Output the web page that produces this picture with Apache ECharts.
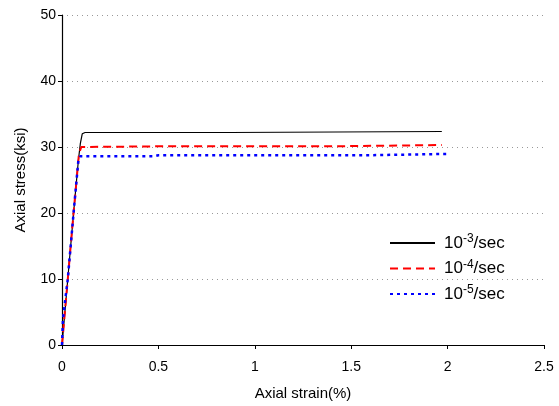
<!DOCTYPE html>
<html>
<head>
    <meta charset="utf-8">
    <title>Axial stress-strain</title>
    <script type="text/javascript" src="https://cdn.jsdelivr.net/npm/echarts@6/dist/echarts.min.js"></script>
</head>
<body style="margin:0;">
<div id="chart" style="width:559px;height:406px;"></div>

<script type="text/javascript">
    // strain (%) / stress (ksi)
    var rate3_x = [0, 0.03, 0.06, 0.085, 0.095, 0.105, 0.12, 0.5, 0.87, 0.88, 1.97];
    var rate3_y = [0, 10, 20, 28, 30.5, 32, 32.2, 32.2, 32.2, 32.35, 32.35];
    var rate4_x = [0, 0.03, 0.06, 0.088, 0.1, 0.5, 1.4, 1.41, 1.97];
    var rate4_y = [0, 10, 20, 29, 30, 30.1, 30.1, 30.3, 30.3];
    var rate5_x = [0, 0.005, 0.03, 0.06, 0.085, 0.095, 0.48, 0.5, 1.58, 1.59, 2.0];
    var rate5_y = [0, 4, 10, 20, 28, 28.6, 28.6, 28.75, 28.75, 28.95, 28.95];
    var names = ['10{sup|-3}/sec', '10{sup|-4}/sec', '10{sup|-5}/sec'];

    function pairs(xs, ys) {
        var out = [];
        for (var i = 0; i < xs.length; i++) {
            out.push([xs[i], ys[i]]);
        }
        return out;
    }

    var myChart = echarts.init(document.getElementById('chart'));
    var font = 'Liberation Sans, Arial, sans-serif';

    var option = {
        animation: false,
        backgroundColor: '#fff',
        grid: {
            left: 62,
            top: 15,
            right: 15,
            bottom: 59
        },
        legend: {
            orient: 'vertical',
            left: 389,
            top: 233,
            padding: 0,
            itemWidth: 45,
            itemHeight: 14,
            itemGap: 7,
            data: names,
            formatter: function (n) { return n; },
            itemStyle: { opacity: 0 },
            textStyle: {
                fontFamily: font,
                fontSize: 17,
                color: '#000',
                padding: [0, 0, 0, 4],
                rich: {
                    sup: {
                        fontFamily: font,
                        fontSize: 12,
                        color: '#000',
                        padding: [0, 0, 8, 0]
                    }
                }
            }
        },
        xAxis: {
            type: 'value',
            min: 0,
            max: 2.5,
            interval: 0.5,
            name: 'Axial strain(%)',
            nameLocation: 'middle',
            nameGap: 41,
            nameTextStyle: { fontFamily: font, fontSize: 15, color: '#000' },
            axisLine: { lineStyle: { color: '#000', width: 1.2 } },
            axisTick: { show: true, length: 4, lineStyle: { color: '#000' } },
            axisLabel: { fontFamily: font, fontSize: 14, color: '#000', margin: 15 },
            splitLine: { show: false }
        },
        yAxis: {
            type: 'value',
            min: 0,
            max: 50,
            interval: 10,
            name: 'Axial stress(ksi)',
            nameLocation: 'middle',
            nameGap: 34,
            nameTextStyle: { fontFamily: font, fontSize: 15, color: '#000' },
            axisLine: { show: true, lineStyle: { color: '#000', width: 1.2 } },
            axisTick: { show: true, length: 4, lineStyle: { color: '#000' } },
            axisLabel: { fontFamily: font, fontSize: 14, color: '#000', margin: 6 },
            splitLine: {
                show: true,
                lineStyle: { color: '#999', type: [1, 4], width: 1 }
            }
        },
        series: [
            {
                name: names[0],
                type: 'line',
                symbol: 'none',
                data: pairs(rate3_x, rate3_y),
                lineStyle: { color: '#000', width: 1.2 },
                itemStyle: { color: '#000' }
            },
            {
                name: names[1],
                type: 'line',
                symbol: 'none',
                data: pairs(rate4_x, rate4_y),
                lineStyle: { color: '#ff0000', width: 2, type: [8, 5] },
                itemStyle: { color: '#ff0000' }
            },
            {
                name: names[2],
                type: 'line',
                symbol: 'none',
                data: pairs(rate5_x, rate5_y),
                lineStyle: { color: '#0000ff', width: 2.5, type: [3, 4] },
                itemStyle: { color: '#0000ff' }
            }
        ]
    };
    myChart.setOption(option);
</script>
</body>
</html>
